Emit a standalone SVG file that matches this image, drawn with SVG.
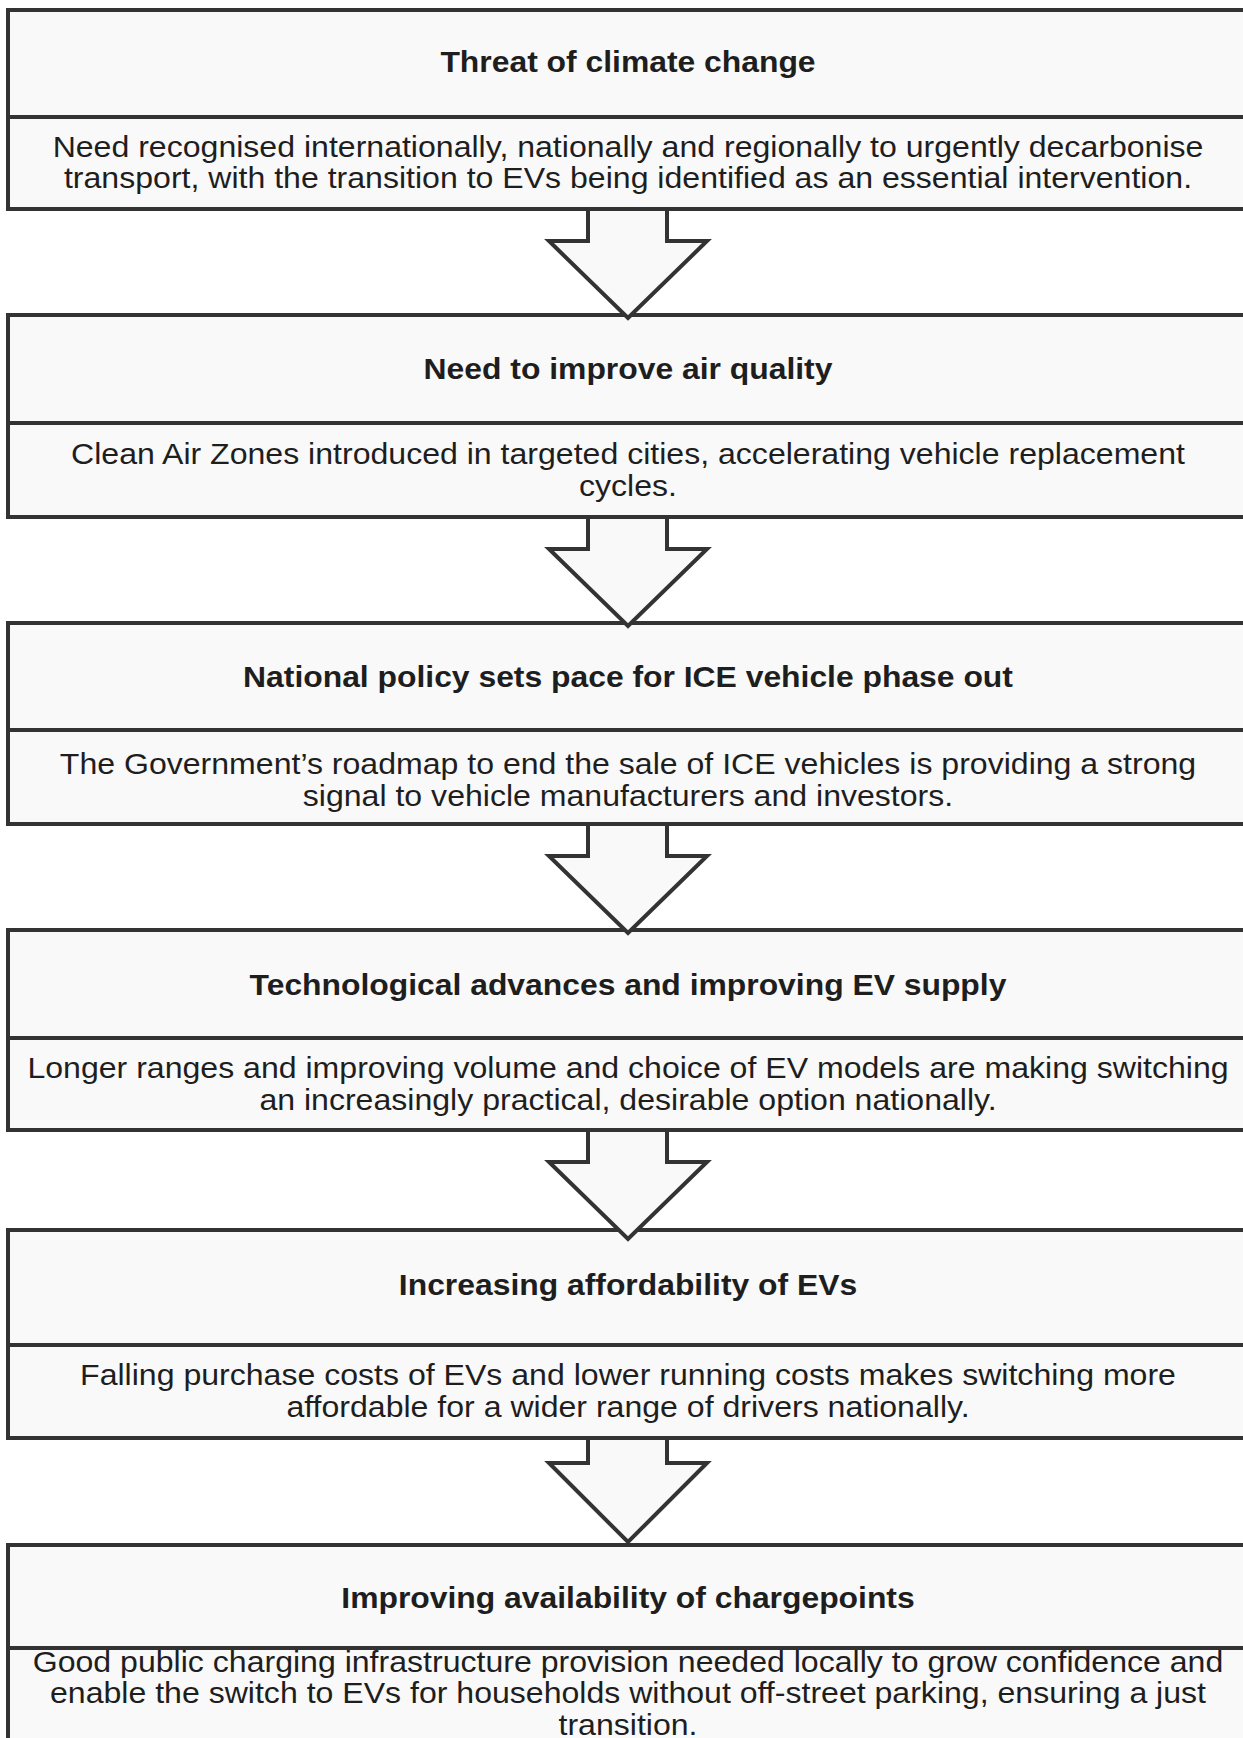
<svg xmlns="http://www.w3.org/2000/svg" width="1243" height="1738" viewBox="0 0 1243 1738">
<style>
  .sec { fill: #f9f9f9; stroke: #333333; stroke-width: 4; }
  .arrow { fill: #f9f9f9; stroke: #333333; stroke-width: 4; stroke-linejoin: miter; }
  .title { font-family: "Liberation Sans", Arial, sans-serif; font-weight: bold; font-size: 29.5px; fill: #1e1e1e; text-anchor: middle; }
  .body { font-family: "Liberation Sans", Arial, sans-serif; font-size: 29px; fill: #1e1e1e; text-anchor: middle; }
</style>
<rect x="0" y="0" width="1243" height="1738" fill="#ffffff"/>

<g id="node1">
  <rect class="sec" x="8" y="10" width="1245" height="107"/>
  <rect class="sec" x="8" y="117" width="1245" height="92"/>
  <text class="title" transform="translate(628 72) scale(1.08 1)">Threat of climate change</text>
  <text class="body" transform="translate(628 157) scale(1.106 1)">Need recognised internationally, nationally and regionally to urgently decarbonise</text>
  <text class="body" transform="translate(628 188) scale(1.106 1)">transport, with the transition to EVs being identified as an essential intervention.</text>
</g>

<g id="node2">
  <rect class="sec" x="8" y="315" width="1245" height="108"/>
  <rect class="sec" x="8" y="423" width="1245" height="94"/>
  <text class="title" transform="translate(628 379) scale(1.08 1)">Need to improve air quality</text>
  <text class="body" transform="translate(628 464) scale(1.106 1)">Clean Air Zones introduced in targeted cities, accelerating vehicle replacement</text>
  <text class="body" transform="translate(628 496) scale(1.106 1)">cycles.</text>
</g>

<g id="node3">
  <rect class="sec" x="8" y="623" width="1245" height="107"/>
  <rect class="sec" x="8" y="730" width="1245" height="94"/>
  <text class="title" transform="translate(628 687) scale(1.08 1)">National policy sets pace for ICE vehicle phase out</text>
  <text class="body" transform="translate(628 774) scale(1.106 1)">The Government’s roadmap to end the sale of ICE vehicles is providing a strong</text>
  <text class="body" transform="translate(628 806) scale(1.106 1)">signal to vehicle manufacturers and investors.</text>
</g>

<g id="node4">
  <rect class="sec" x="8" y="930" width="1245" height="108"/>
  <rect class="sec" x="8" y="1038" width="1245" height="92"/>
  <text class="title" transform="translate(628 995) scale(1.08 1)">Technological advances and improving EV supply</text>
  <text class="body" transform="translate(628 1078) scale(1.106 1)">Longer ranges and improving volume and choice of EV models are making switching</text>
  <text class="body" transform="translate(628 1110) scale(1.106 1)">an increasingly practical, desirable option nationally.</text>
</g>

<g id="node5">
  <rect class="sec" x="8" y="1230" width="1245" height="115"/>
  <rect class="sec" x="8" y="1345" width="1245" height="93"/>
  <text class="title" transform="translate(628 1295) scale(1.08 1)">Increasing affordability of EVs</text>
  <text class="body" transform="translate(628 1385) scale(1.106 1)">Falling purchase costs of EVs and lower running costs makes switching more</text>
  <text class="body" transform="translate(628 1417) scale(1.106 1)">affordable for a wider range of drivers nationally.</text>
</g>

<g id="node6">
  <rect class="sec" x="8" y="1545" width="1245" height="103"/>
  <rect class="sec" x="8" y="1648" width="1245" height="120"/>
  <text class="title" transform="translate(628 1608) scale(1.08 1)">Improving availability of chargepoints</text>
  <text class="body" transform="translate(628 1672) scale(1.106 1)">Good public charging infrastructure provision needed locally to grow confidence and</text>
  <text class="body" transform="translate(628 1703) scale(1.106 1)">enable the switch to EVs for households without off-street parking, ensuring a just</text>
  <text class="body" transform="translate(628 1735) scale(1.106 1)">transition.</text>
</g>

<g id="connectors">
  <polygon class="arrow" points="588,209 588,241 549,241 628,318 707,241 667,241 667,209"/>
  <polygon class="arrow" points="588,517 588,549 549,549 628,626 707,549 667,549 667,517"/>
  <polygon class="arrow" points="588,824 588,856 549,856 628,933 707,856 667,856 667,824"/>
  <polygon class="arrow" points="588,1130 588,1162 549,1162 628,1239 707,1162 667,1162 667,1130"/>
  <polygon class="arrow" points="588,1438 588,1463 549,1463 628,1542 707,1463 667,1463 667,1438"/>
</g>
</svg>
